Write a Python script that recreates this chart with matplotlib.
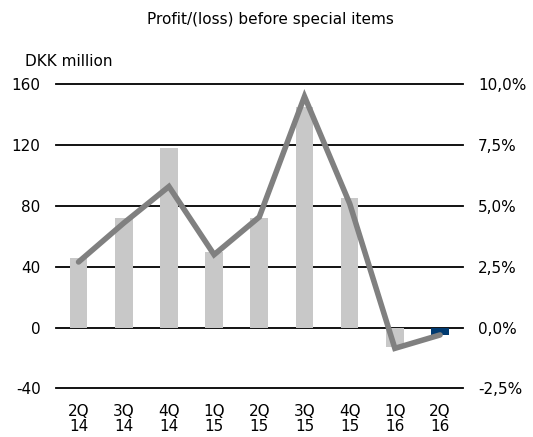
import numpy as np
from matplotlib import pyplot as plt

# Data
quarters = ["2Q\n14", "3Q\n14", "4Q\n14", "1Q\n15", "2Q\n15", "3Q\n15", "4Q\n15", "1Q\n16", "2Q\n16"]
profit = [46, 72, 118, 50, 72, 145, 85, -13, -5]          # DKK million (bars)
margin = [2.7, 4.3, 5.8, 3.0, 4.55, 9.5, 5.1, -0.85, -0.3]  # % (line, right axis)
left_ticks = [-40, 0, 40, 80, 120, 160]
right_ticks = [-2.5, 0.0, 2.5, 5.0, 7.5, 10.0]

plt.rcParams['font.family'] = ['DejaVu Sans']

fig = plt.figure(figsize=(5.33, 4.37), dpi=100)
ax = fig.add_axes([0.105, 0.111, 0.763, 0.696])
ax2 = ax.twinx()

x = np.arange(len(quarters))
colors = ['#c8c8c8'] * (len(quarters) - 1) + ['#003a70']

for y in left_ticks:
    ax.axhline(y, color='black', linewidth=1.3, zorder=1, clip_on=False)
ax.bar(x, profit, width=0.39, color=colors, zorder=2)

ax2.plot(x, margin, color='#808080', linewidth=4, solid_capstyle='round',
         solid_joinstyle='miter', zorder=3)

ax.set_xlim(-0.5, len(quarters) - 0.5)
ax.set_ylim(-40, 160)
ax2.set_ylim(-2.5, 10)
ax.set_yticks(left_ticks)
ax.set_yticklabels([str(v) for v in left_ticks])
ax2.set_yticks(right_ticks)
ax2.set_yticklabels([f"{v:.1f}%".replace('.', ',') for v in right_ticks])
ax.set_xticks(x)
ax.set_xticklabels(quarters, linespacing=1.0)

for a in (ax, ax2):
    for s in a.spines.values():
        s.set_visible(False)
    a.tick_params(length=0, labelsize=11, colors='black')
ax.tick_params(axis='y', pad=11)
ax2.tick_params(axis='y', pad=11)
ax.tick_params(axis='x', pad=11)

ax2.set_zorder(ax.get_zorder() + 1)
ax2.patch.set_visible(False)

fig.text(0.507, 0.955, "Profit/(loss) before special items", ha='center', va='center', fontsize=11)
fig.text(0.047, 0.86, "DKK million", ha='left', va='center', fontsize=11)

fig.savefig("out.png", dpi=100)
